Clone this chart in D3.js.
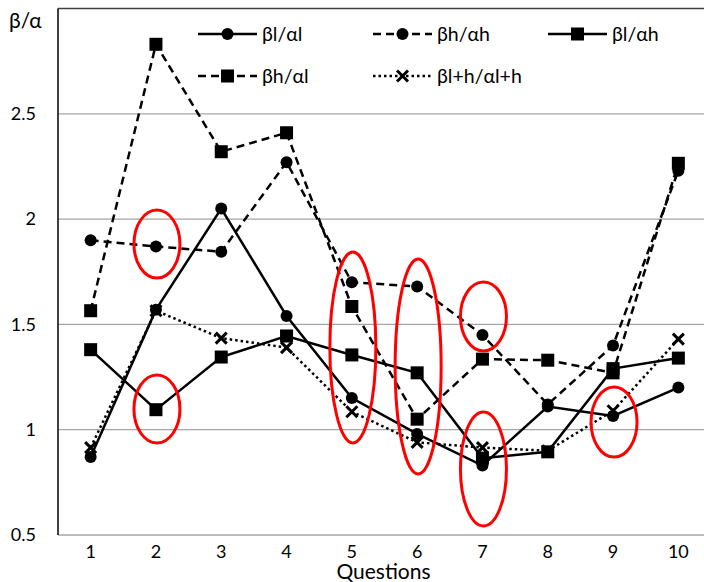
<!DOCTYPE html>
<html>
<head>
<meta charset="utf-8">
<script src="https://cdn.jsdelivr.net/npm/d3@7"></script>
<style>
  body { margin: 0; background: #fff; }
  svg { display: block; font-family: Lato, "Open Sans", sans-serif; }
</style>
</head>
<body>
<script>
// questions on the x axis
const questions = [1, 2, 3, 4, 5, 6, 7, 8, 9, 10];
const yTicks = [0.5, 1, 1.5, 2, 2.5];

// ratios
const lowLow   = [0.87, 1.57, 2.05, 1.54, 1.15, 0.98, 0.83, 1.11, 1.065, 1.20]; // βl/αl
const highHigh = [1.90, 1.87, 1.845, 2.27, 1.70, 1.68, 1.45, 1.12, 1.40, 2.23]; // βh/αh
const lowHigh  = [1.38, 1.095, 1.345, 1.445, 1.355, 1.27, 0.865, 0.895, 1.29, 1.34]; // βl/αh
const highLow  = [1.565, 2.83, 2.32, 2.41, 1.585, 1.05, 1.335, 1.33, 1.27, 2.265]; // βh/αl
const pooled   = [0.915, 1.565, 1.435, 1.39, 1.085, 0.94, 0.915, 0.90, 1.09, 1.43]; // βl+h/αl+h

const seriesNames = ["βl/αl", "βh/αh", "βl/αh", "βh/αl", "βl+h/αl+h"];
const seriesValues = [lowLow, highHigh, lowHigh, highLow, pooled];
const seriesDash = ["none", "8,5", "none", "8,5", "2.5,3"];
const seriesMarker = ["circle", "circle", "square", "square", "cross"];

// red ellipses: question, value span covered
const circledQ  = [2, 2, 5, 6, 7, 7, 9];
const circledLo = [1.72, 0.937, 0.937, 0.79, 1.374, 0.543, 0.87];
const circledHi = [2.043, 1.26, 1.844, 1.811, 1.701, 1.084, 1.203];

const width = 704, height = 582;
const plotLeft = 58, plotRight = 711, plotTop = 8.5, plotBottom = 535;

const svg = d3.select("body").append("svg")
  .attr("width", width)
  .attr("height", height);

const x = d3.scalePoint(questions, [plotLeft, plotRight]).padding(0.5);
const y = d3.scaleLinear([0.5, 3], [plotBottom, plotTop]);

// gridlines
svg.append("g")
  .selectAll("line")
  .data(yTicks)
  .join("line")
  .attr("x1", plotLeft).attr("x2", width)
  .attr("y1", d => y(d)).attr("y2", d => y(d))
  .attr("stroke", "#a6a6a6")
  .attr("stroke-width", 1.3);

// top border and left axis
svg.append("line")
  .attr("x1", plotLeft).attr("x2", width)
  .attr("y1", y(3)).attr("y2", y(3))
  .attr("stroke", "#404040").attr("stroke-width", 1.5);
svg.append("line")
  .attr("x1", plotLeft).attr("x2", plotLeft)
  .attr("y1", y(3)).attr("y2", plotBottom)
  .attr("stroke", "#000").attr("stroke-width", 1.5);

// y tick labels
svg.append("g")
  .selectAll("text")
  .data(yTicks)
  .join("text")
  .attr("x", 36)
  .attr("y", d => y(d))
  .attr("dy", "0.35em")
  .attr("text-anchor", "end")
  .attr("font-size", 18)
  .attr("fill", "#000")
  .text(d => d);

// x tick labels
svg.append("g")
  .selectAll("text")
  .data(questions)
  .join("text")
  .attr("x", d => x(d))
  .attr("y", 558)
  .attr("text-anchor", "middle")
  .attr("font-size", 18)
  .attr("fill", "#000")
  .text(d => d);

svg.append("text")
  .attr("x", (plotLeft + plotRight) / 2 - 1)
  .attr("y", 579)
  .attr("text-anchor", "middle")
  .attr("font-size", 21)
  .text("Questions");

svg.append("text")
  .attr("x", 9)
  .attr("y", 28)
  .attr("font-size", 21)
  .text("β/α");

function drawMarker(g, type, cx, cy) {
  if (type === "circle") {
    g.append("circle").attr("cx", cx).attr("cy", cy).attr("r", 6).attr("fill", "#000");
  } else if (type === "square") {
    g.append("rect").attr("x", cx - 6.5).attr("y", cy - 6.5)
      .attr("width", 13).attr("height", 13).attr("fill", "#000");
  } else {
    g.append("path")
      .attr("d", `M${cx - 5.5},${cy - 5.5}L${cx + 5.5},${cy + 5.5}M${cx - 5.5},${cy + 5.5}L${cx + 5.5},${cy - 5.5}`)
      .attr("stroke", "#000").attr("stroke-width", 3);
  }
}

const line = d3.line()
  .x((d, i) => x(questions[i]))
  .y(d => y(d));

// series, pooled drawn first so the others sit on top
const order = [4, 3, 1, 2, 0];
order.forEach(k => {
  const g = svg.append("g");
  g.append("path")
    .attr("d", line(seriesValues[k]))
    .attr("fill", "none")
    .attr("stroke", "#000")
    .attr("stroke-width", 2.5)
    .attr("stroke-dasharray", seriesDash[k]);
  seriesValues[k].forEach((v, i) => drawMarker(g, seriesMarker[k], x(questions[i]), y(v)));
});

// red ellipses
svg.append("g")
  .selectAll("ellipse")
  .data(circledQ.map((q, i) => ({ q, lo: circledLo[i], hi: circledHi[i] })))
  .join("ellipse")
  .attr("cx", d => x(d.q) + 1)
  .attr("cy", d => (y(d.lo) + y(d.hi)) / 2)
  .attr("rx", 23)
  .attr("ry", d => (y(d.lo) - y(d.hi)) / 2)
  .attr("fill", "none")
  .attr("stroke", "#ff0000")
  .attr("stroke-width", 3);

// legend
const legendCols = [198, 373, 548];
const legendRows = [34, 76];
seriesNames.forEach((name, k) => {
  const lx = legendCols[k % 3];
  const ly = legendRows[Math.floor(k / 3)];
  const g = svg.append("g");
  g.append("line")
    .attr("x1", lx).attr("x2", lx + 59)
    .attr("y1", ly).attr("y2", ly)
    .attr("stroke", "#000")
    .attr("stroke-width", 2.5)
    .attr("stroke-dasharray", seriesDash[k]);
  drawMarker(g, seriesMarker[k], lx + 29.5, ly);
  g.append("text")
    .attr("x", lx + 64)
    .attr("y", ly)
    .attr("dy", "0.35em")
    .attr("font-size", 19.5)
    .text(name);
});
</script>
</body>
</html>
